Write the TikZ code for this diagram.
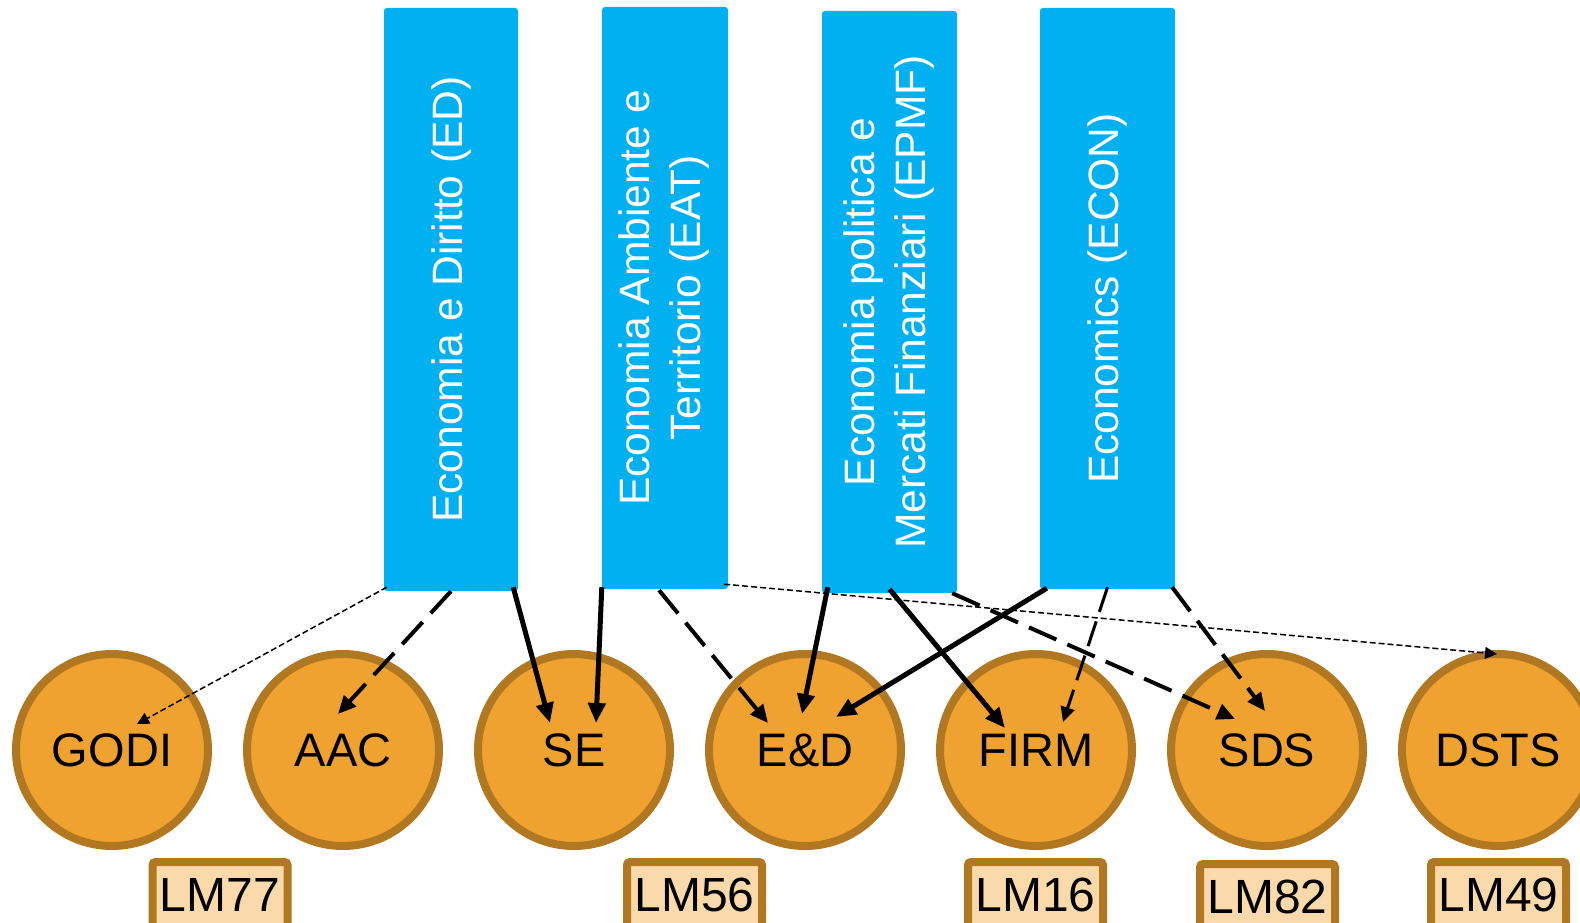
\documentclass[tikz,border=0pt]{standalone}
\usepackage{fontspec}
\setmainfont{Liberation Sans}
\usetikzlibrary{arrows.meta,calc}
\definecolor{boxblue}{RGB}{0,176,240}
\definecolor{circfill}{RGB}{239,162,48}
\definecolor{circline}{RGB}{177,120,33}
\definecolor{lmfill}{RGB}{250,218,170}
\begin{document}
\begin{tikzpicture}[x=1pt,y=-1pt,
  prog/.style={fill=boxblue, draw=none, rounded corners=3pt, inner sep=0pt, text=white, font=\fontsize{42.5}{51}\selectfont},
  course/.style={circle, fill=circfill, draw=circline, line width=8pt, minimum size=192pt, inner sep=0pt, font=\fontsize{47}{56}\selectfont},
  lmbox/.style={rectangle, fill=lmfill, draw=circline, line width=8pt, rounded corners=3pt, minimum width=135pt, minimum height=66pt, inner sep=0pt, font=\fontsize{48}{56}\selectfont},
  solidarr/.style={line width=5pt, -{Triangle[length=20pt,width=17pt]}},
  longdash/.style={line width=4pt, dash pattern=on 30pt off 12pt, -{Triangle[length=18pt,width=16pt]}},
  meddash/.style={line width=3pt, dash pattern=on 26pt off 10pt, -{Triangle[length=15pt,width=14pt]}},
  thindash/.style={line width=1.5pt, dash pattern=on 6pt off 3pt, -{Triangle[length=12pt,width=12pt]}},
]
\useasboundingbox (0,0) rectangle (1580,923);
\clip (0,0) rectangle (1580,923);

% programme boxes
\node[prog, minimum width=134pt, minimum height=583pt] (pED) at (451,299.5)
  {\rotatebox{90}{Economia e Diritto (ED)}};
\node[prog, minimum width=126pt, minimum height=582pt] (pEAT) at (665,298)
  {\rotatebox{90}{\begin{tabular}{@{}c@{}}Economia Ambiente e\\Territorio (EAT)\end{tabular}}};
\node[prog, minimum width=135pt, minimum height=582pt] (pEPMF) at (889.5,302)
  {\rotatebox{90}{\begin{tabular}{@{}c@{}}Economia politica e\\Mercati Finanziari (EPMF)\end{tabular}}};
\node[prog, minimum width=135pt, minimum height=581pt] (pECON) at (1107.5,298.5)
  {\rotatebox{90}{Economics (ECON)}};

% courses
\node[course] (cGODI) at (112,750) {GODI};
\node[course] (cAAC) at (343,750) {AAC};
\node[course] (cSE) at (574,750) {SE};
\node[course] (cED) at (805,750) {E\&D};
\node[course] (cFIRM) at (1036,750) {FIRM};
\node[course] (cSDS) at (1267,750) {SDS};
\node[course] (cDSTS) at (1498,750) {DSTS};

% LM labels
\node[lmbox] (lm77) at (220,895) {LM77};
\node[lmbox] (lm56) at (694.5,895) {LM56};
\node[lmbox] (lm16) at (1035.5,895) {LM16};
\node[lmbox] (lm82) at (1267.5,897) {LM82};
\node[lmbox] (lm49) at (1498.5,895) {LM49};

% connectors
\draw[thindash] ($(pED.south west)+(3,-4)$) -- ($(cGODI)+(25,-26)$);
\draw[longdash] (pED.south) -- ($(cAAC)+(-5,-36)$);
\draw[solidarr] ($(pED.south east)+(-5,-4)$) -- ($(cSE)+(-24,-27)$);
\draw[solidarr] ($(pEAT.south west)+(0,-2)$) -- ($(cSE)+(22,-27)$);
\draw[longdash] ($(pEAT.south)+(-6,1)$) -- ($(cED)+(-37,-27)$);
\draw[thindash] ($(pEAT.south east)+(-4,-5)$) -- ($(cDSTS)+(-1,-96)$);
\draw[solidarr] ($(pEPMF.south west)+(6,-6)$) -- ($(cED)+(-3,-36)$);
\draw[solidarr] ($(pEPMF.south)+(0,-4)$) -- ($(cFIRM)+(-31,-22)$);
\draw[longdash] ($(pEPMF.south east)+(-5,0)$) -- ($(cSDS)+(-32,-31)$);
\draw[solidarr] ($(pECON.south west)+(7,-1)$) -- ($(cED)+(31,-33)$);
\draw[meddash] ($(pECON.south)+(0,-2)$) -- ($(cFIRM)+(27,-28)$);
\draw[longdash] ($(pECON.south east)+(-3,-2)$) -- ($(cSDS)+(-2,-39)$);
\end{tikzpicture}
\end{document}
